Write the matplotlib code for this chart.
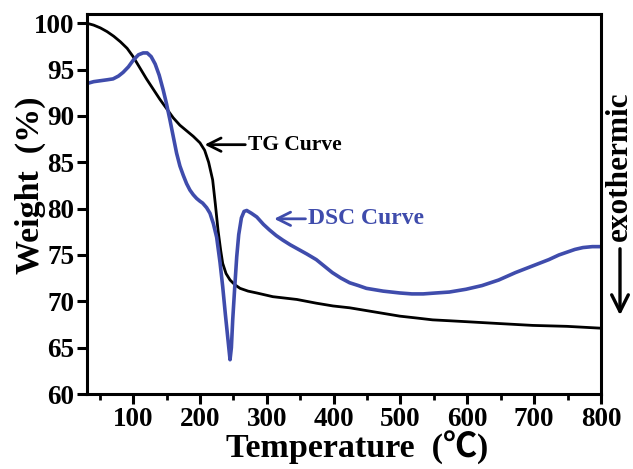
import matplotlib
matplotlib.use("Agg")
import matplotlib.pyplot as plt

# TG curve (weight %)
tg_temp = [31, 41, 51, 61, 71, 81, 91, 100, 110, 120, 130, 140, 151, 160, 170, 180, 190,
           200, 207, 213, 219, 223, 227, 231, 234, 239, 245, 252, 260, 272, 285, 309, 345,
           374, 399, 424, 449, 474, 499, 524, 548, 574, 599, 648, 698, 749, 800]
tg_weight = [100.0, 99.8, 99.5, 99.1, 98.6, 98.0, 97.3, 96.4, 95.2, 94.0, 92.9, 91.8, 90.7,
             89.8, 89.0, 88.4, 87.8, 87.1, 86.3, 85.0, 83.1, 80.5, 77.7, 75.5, 74.1, 73.0,
             72.3, 71.8, 71.4, 71.1, 70.9, 70.5, 70.2, 69.8, 69.5, 69.3, 69.0, 68.7, 68.4,
             68.2, 68.0, 67.9, 67.8, 67.6, 67.4, 67.3, 67.1]

# DSC curve (arbitrary units, plotted on the weight scale)
dsc_temp = [31, 41, 51, 61, 70, 78, 85, 93, 100, 108, 115, 121, 127, 133, 139, 145, 150,
            155, 160, 165, 170, 175, 180, 185, 190, 195, 200, 204, 210, 215, 220, 225, 230,
            234, 238, 242, 245, 247, 249, 252, 255, 258, 262, 266, 270, 277, 285, 295, 304,
            314, 324, 335, 345, 360, 374, 386, 398, 411, 424, 437, 449, 474, 499, 517, 534,
            553, 573, 598, 622, 647, 672, 697, 722, 737, 749, 761, 773, 787, 800]
dsc_value = [93.5, 93.7, 93.8, 93.9, 94.0, 94.3, 94.7, 95.3, 96.0, 96.6, 96.8, 96.8, 96.4,
             95.6, 94.4, 92.8, 91.3, 89.6, 87.8, 86.0, 84.6, 83.6, 82.7, 82.0, 81.5, 81.1,
             80.8, 80.6, 80.1, 79.5, 78.4, 76.9, 74.2, 71.6, 68.6, 65.8, 63.7, 65.0, 68.0,
             71.5, 74.8, 77.2, 79.0, 79.7, 79.8, 79.5, 79.1, 78.3, 77.7, 77.1, 76.6, 76.1,
             75.7, 75.1, 74.5, 73.8, 73.1, 72.5, 72.0, 71.7, 71.4, 71.1, 70.9, 70.8, 70.8,
             70.9, 71.0, 71.3, 71.7, 72.3, 73.1, 73.8, 74.5, 75.0, 75.3, 75.6, 75.8, 75.9,
             75.9]

x_ticks = [100, 200, 300, 400, 500, 600, 700, 800]
y_ticks = [60, 65, 70, 75, 80, 85, 90, 95, 100]

blue = "#3F4CAC"
plt.rcParams['font.family'] = ['Liberation Serif', 'DejaVu Serif']
plt.rcParams['font.weight'] = 'bold'

fig = plt.figure(figsize=(6.33, 4.69), dpi=100)
ax = fig.add_axes([87/633, 1 - 394/469, (601-87)/633, (394-14)/469])

ax.plot(tg_temp, tg_weight, color='black', lw=2.0, solid_joinstyle='round')
ax.plot(dsc_temp, dsc_value, color=blue, lw=2.6, solid_joinstyle='round')

ax.set_xlim(31, 800)
ax.set_ylim(60, 101)
ax.set_xticks(x_ticks)
ax.set_xticks([50, 150, 250, 350, 450, 550, 650, 750], minor=True)
ax.set_yticks(y_ticks)
ax.tick_params(axis='both', which='major', labelsize=19.5, width=2.2, length=7, direction='out', pad=2)
ax.tick_params(axis='x', which='minor', width=2.0, length=4, direction='out')
for lab in ax.get_xticklabels() + ax.get_yticklabels():
    lab.set_fontweight('bold')
for s in ax.spines.values():
    s.set_linewidth(2.2)

ax.set_xlabel('Temperature  (\u2103)', fontsize=24.5, fontweight='bold',
              family=['Liberation Serif', 'Noto Sans CJK SC', 'DejaVu Sans'])
ax.xaxis.set_label_coords(0.525, -0.098)
ax.set_ylabel('Weight  (%)', fontsize=24.5, fontweight='bold')
ax.yaxis.set_label_coords(-0.08, 0.55)

ax.annotate('TG Curve', xy=(207, 86.9), xytext=(272, 86.9), fontsize=15.5, fontweight='bold',
            color='black', va='center', ha='left',
            arrowprops=dict(arrowstyle='->', color='black', lw=2.0, mutation_scale=24,
                            shrinkA=0, shrinkB=0))
ax.annotate('DSC Curve', xy=(311, 78.9), xytext=(362, 78.9), fontsize=17, fontweight='bold',
            color=blue, va='center', ha='left',
            arrowprops=dict(arrowstyle='->', color=blue, lw=2.0, mutation_scale=24,
                            shrinkA=0, shrinkB=0))

fig.text(619/633, 1 - 166/469, 'exothermic', rotation=90, fontsize=22.5, fontweight='bold',
         ha='center', va='center')
fig.patches.append(matplotlib.patches.FancyArrowPatch(
    (620/633, 1 - 246/469), (620/633, 1 - 318/469), transform=fig.transFigure,
    arrowstyle='->', color='black', lw=2.4, mutation_scale=30))

fig.savefig('out.png', dpi=100)
